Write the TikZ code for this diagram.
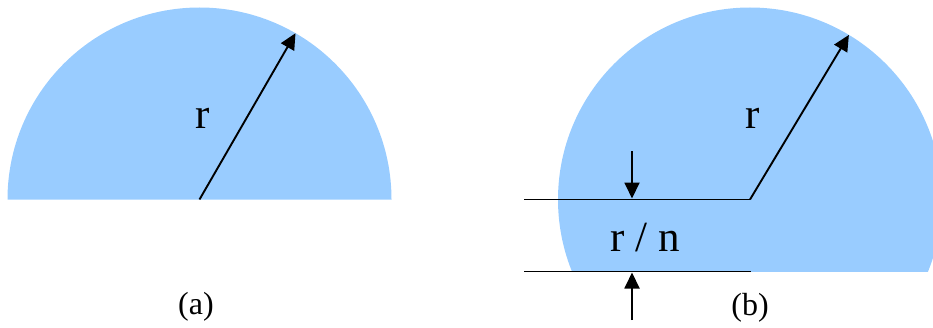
\documentclass[tikz,border=0pt]{standalone}
\usepackage{fontspec}
\setmainfont{Liberation Serif}
\usetikzlibrary{arrows.meta,calc}
\definecolor{discblue}{HTML}{99CCFF}
\begin{document}
\begin{tikzpicture}[x=1pt,y=1pt,
  disc/.style={fill=discblue,draw=none},
  ln/.style={line width=1.9pt,black},
  arr/.style={ln,-{Triangle[length=16pt,width=15pt]}},
  bigtext/.style={inner sep=0pt,font=\fontsize{43}{43}\selectfont},
  captext/.style={inner sep=0pt,font=\fontsize{32}{32}\selectfont}]
\useasboundingbox (0,0) rectangle (933,327);
% (a)
\coordinate (ca) at (199.5,127.5);
\fill[disc] (ca) ++(-192,0) arc[start angle=180,end angle=0,radius=192] -- cycle;
\coordinate (ta) at ($(ca)+(60:192)$);
\draw[arr] (ca) -- (ta);
\node[bigtext] (ra) at (203,209) {r};
\node[captext] (la) at (196,20) {(a)};
% (b)
\coordinate (cb) at (750,127.5);
\begin{scope}
\clip (0,55.5) rectangle (933,327);
\fill[disc] (cb) circle[radius=192];
\end{scope}
\coordinate (tb) at ($(cb)+(59:192)$);
\draw[arr] (cb) -- (tb);
\node[bigtext] (rb) at (753,209) {r};
\coordinate (l1) at (524,127.5);
\coordinate (l2a) at (524,55.5);
\coordinate (l2b) at (751,55.5);
\draw[ln] (l1) -- (cb);
\draw[ln] (l2a) -- (l2b);
\coordinate (d0) at (632,176);
\coordinate (d1) at (632,128.5);
\coordinate (u0) at (632,7);
\coordinate (u1) at (632,54.5);
\draw[arr] (d0) -- (d1);
\draw[arr] (u0) -- (u1);
\node[bigtext] (rn) at (645,89) {r / n};
\node[captext] (lb) at (750,19) {(b)};
\end{tikzpicture}
\end{document}
